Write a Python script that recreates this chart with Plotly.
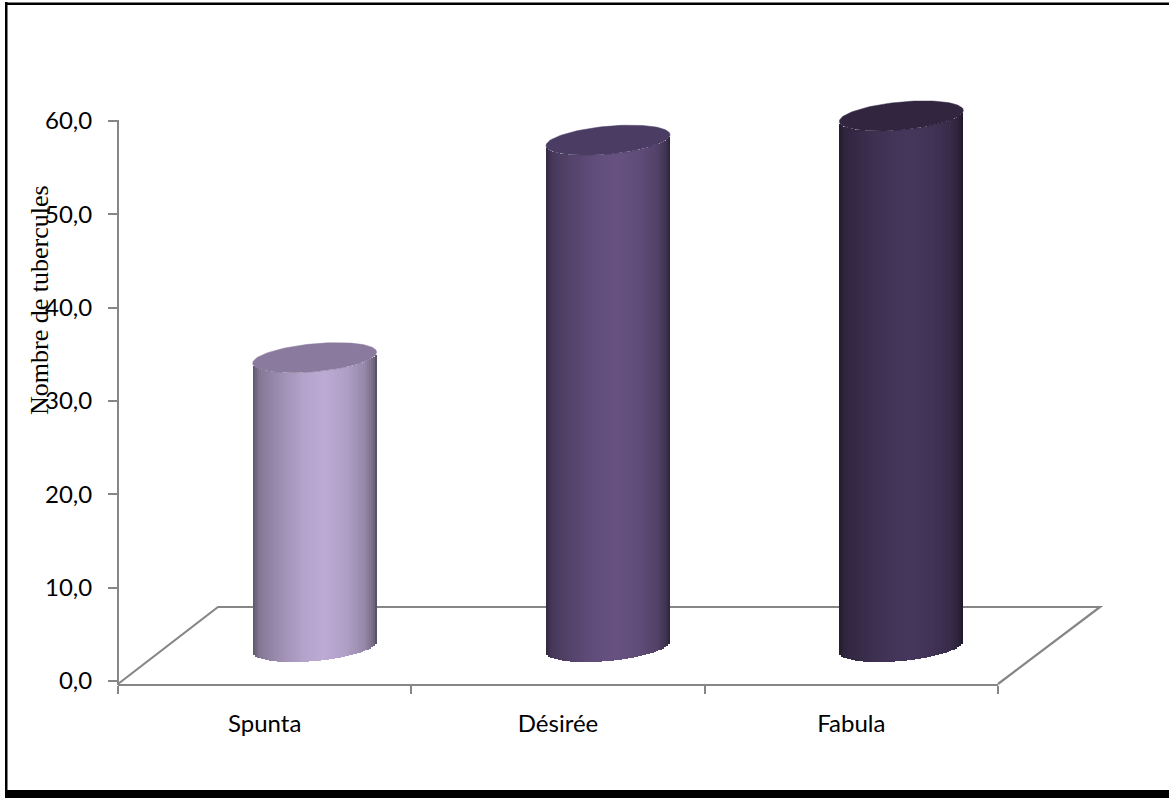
import numpy as np
import plotly.graph_objects as go

categories = ["Spunta", "Désirée", "Fabula"]
values = [31.0, 54.3, 56.9]
y_ticks = [0, 10, 20, 30, 40, 50, 60]
y_title = "Nombre de tubercules"

base_colors = [(189, 171, 213), (103, 82, 130), (70, 55, 92)]
top_colors = ["#8A7B9E", "#4A3C63", "#31253F"]

# Shading across a cylinder: position (-1..1) -> brightness factor
shade_t = [-1.0, -0.9, -0.6, -0.2, 0.15, 0.5, 0.8, 0.94, 1.0]
shade_f = [0.5, 0.7, 0.82, 0.95, 1.0, 0.93, 0.8, 0.62, 0.42]

PX_X = 880 / 3      # pixels per category
PX_Y = 560 / 60     # pixels per unit
depth_x = 50 / PX_X
depth_y = 34 / PX_Y
half_w = 62 / PX_X
tilt = 5.5 / PX_Y
ell_h = 14 / PX_Y
n_strips = 62
PLOT_TOP = 90       # plot area extends above the 60 tick so the tallest cylinder fits

fig = go.Figure()
for i, (v, col, top) in enumerate(zip(values, base_colors, top_colors)):
    t = (np.arange(n_strips) + 0.5) / n_strips * 2 - 1
    f = np.interp(t, shade_t, shade_f)
    colors = [f"rgb({int(col[0]*k)},{int(col[1]*k)},{int(col[2]*k)})" for k in f]
    fig.add_trace(go.Bar(
        x=i + depth_x + t * half_w,
        y=[v] * n_strips,
        base=depth_y + tilt * t - ell_h * np.sqrt(1 - t ** 2),
        width=2.02 * half_w / n_strips * 1.02,
        marker=dict(color=colors, line=dict(width=0)),
        showlegend=False, hoverinfo="skip", name=categories[i],
    ))
    th = np.linspace(0, 2 * np.pi, 121)
    fig.add_trace(go.Scatter(
        x=i + depth_x + half_w * np.cos(th),
        y=depth_y + v + tilt * np.cos(th) + ell_h * np.sin(th),
        mode="lines", fill="toself", fillcolor=top,
        line=dict(color=top, width=0.5),
        showlegend=False, hoverinfo="skip",
    ))


def px(x):
    return (x - 118) / 880


def py(y):
    return (684 - y) / (684 - PLOT_TOP)


floor_path = (f"M {px(118)} {py(684)} L {px(218)} {py(607)} "
              f"L {px(1100)} {py(607)} L {px(998)} {py(684)}")
shapes = [dict(type="path", path=floor_path, xref="paper", yref="paper",
               line=dict(color="#868686", width=2.2), layer="below"),
          dict(type="line", xref="paper", yref="paper",
               x0=px(118), x1=px(118), y0=py(120), y1=py(685),
               line=dict(color="#868686", width=2), layer="below")]
for x0, y0, x1, y1 in [(5, 2, 7.5, 798), (5, 2.5, 1169, 5), (5, 790, 1169, 798)]:
    shapes.append(dict(type="rect", xref="paper", yref="paper",
                       x0=px(x0), x1=px(x1), y0=py(y0), y1=py(y1),
                       fillcolor="#000000", line=dict(width=0), layer="above"))

fig.update_layout(
    width=1169, height=798, autosize=False,
    margin=dict(l=118, r=171, t=PLOT_TOP, b=114, pad=0),
    paper_bgcolor="white", plot_bgcolor="white",
    barmode="overlay", bargap=0,
    separators=", ",
    font=dict(family="Lato", size=23, color="#000000"),
    shapes=shapes,
    annotations=[dict(text=y_title, xref="paper", yref="paper",
                      x=px(39), y=py(300), xanchor="center", yanchor="middle",
                      showarrow=False, textangle=-90,
                      font=dict(family="Liberation Serif", size=26, color="#000000"))],
)
fig.update_xaxes(
    range=[-0.5, 2.5], showgrid=False, zeroline=False,
    tickmode="array", tickvals=[0, 1, 2], ticktext=categories,
    ticks="", ticklabelstandoff=17, tickfont=dict(family="Lato", size=24),
    showline=True, linecolor="#868686", linewidth=2,
    minor=dict(tickmode="array", tickvals=[-0.5, 0.5, 1.5, 2.5], ticks="outside",
               ticklen=8, tickwidth=2, tickcolor="#868686", showgrid=False),
)
fig.update_yaxes(
    range=[-3 / PX_Y, 60 + 31 / PX_Y], showgrid=False, zeroline=False,
    tickmode="array", tickvals=y_ticks, tickformat=".1f",
    ticks="outside", ticklen=9, tickwidth=2, tickcolor="#868686",
    ticklabelstandoff=11, tickfont=dict(family="Lato", size=24),
    showline=False,
)
fig.write_html("out.html", config={"displayModeBar": False},
               post_script="document.body.style.margin='0';document.documentElement.style.overflow='hidden';")
